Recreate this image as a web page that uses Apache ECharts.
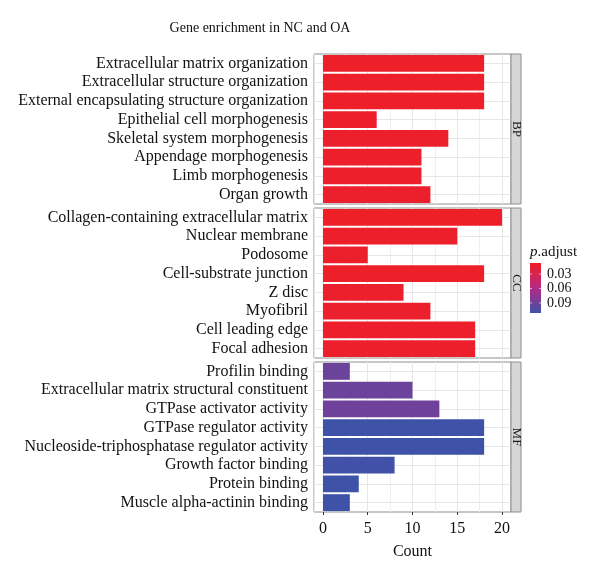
<!DOCTYPE html>
<html>
<head>
<meta charset="utf-8">
<script src="https://cdn.jsdelivr.net/npm/echarts@6/dist/echarts.min.js"></script>
<style>
html,body{margin:0;padding:0;background:#fff;}
#chart{width:600px;height:575px;}
</style>
</head>
<body>
<div id="chart"></div>
<script>
// ---- data ----
const panels = ['BP', 'CC', 'MF'];
const bpTerms = ['Extracellular matrix organization','Extracellular structure organization','External encapsulating structure organization','Epithelial cell morphogenesis','Skeletal system morphogenesis','Appendage morphogenesis','Limb morphogenesis','Organ growth'];
const bpCount = [18, 18, 18, 6, 14, 11, 11, 12];
const bpPadj = [0.008, 0.008, 0.008, 0.009, 0.010, 0.009, 0.009, 0.010];
const ccTerms = ['Collagen-containing extracellular matrix','Nuclear membrane','Podosome','Cell-substrate junction','Z disc','Myofibril','Cell leading edge','Focal adhesion'];
const ccCount = [20, 15, 5, 18, 9, 12, 17, 17];
const ccPadj = [0.007, 0.009, 0.010, 0.008, 0.010, 0.010, 0.009, 0.009];
const mfTerms = ['Profilin binding','Extracellular matrix structural constituent','GTPase activator activity','GTPase regulator activity','Nucleoside-triphosphatase regulator activity','Growth factor binding','Protein binding','Muscle alpha-actinin binding'];
const mfCount = [3, 10, 13, 18, 18, 8, 4, 3];
const mfPadj = [0.091, 0.091, 0.089, 0.111, 0.111, 0.110, 0.111, 0.111];
const xTicks = [0, 5, 10, 15, 20];
const minorTicks = [2.5, 7.5, 12.5, 17.5];
const legendTicks = [0.03, 0.06, 0.09];
const padjMin = 0.007, padjMax = 0.111;

// ---- layout ----
const FONT = 'Liberation Serif, Times New Roman, serif';
const gridLeft = 314, gridRight = 511;
const tops = [54, 208, 362];
const H = 150;
const colors = ['#EE1F26', '#B52A86', '#3E52A8'];

const terms = [bpTerms, ccTerms, mfTerms];
const counts = [bpCount, ccCount, mfCount];
const padjs = [bpPadj, ccPadj, mfPadj];

const grid = [], xAxis = [], yAxis = [], series = [], graphic = [];
panels.forEach((p, k) => {
  const last = k === panels.length - 1;
  grid.push({left: gridLeft, width: gridRight - gridLeft, top: tops[k], height: H,
    show: true, borderColor: '#8f8f8f', borderWidth: 1, backgroundColor: '#fff', z: 0});
  xAxis.push({type: 'value', gridIndex: k, min: -1, max: 21, splitNumber: 5,
    axisLine: {show: false},
    axisTick: {show: last, length: 3, lineStyle: {color: '#333'}},
    axisLabel: {show: last, showMinLabel: false, showMaxLabel: false, color: '#111',
      fontFamily: FONT, fontSize: 16, margin: 9},
    splitLine: {show: true, lineStyle: {color: '#e6e6e6', width: 1}},
    name: last ? 'Count' : '', nameLocation: 'middle', nameGap: 32,
    nameTextStyle: {fontFamily: FONT, fontSize: 16, color: '#111'}});
  yAxis.push({type: 'category', gridIndex: k, inverse: true, data: terms[k],
    axisLine: {show: false},
    axisTick: {show: true, alignWithLabel: true, interval: 0, length: 3, lineStyle: {color: '#333'}},
    axisLabel: {interval: 0, color: '#111', fontFamily: FONT, fontSize: 16, margin: 6},
    splitLine: {show: false}});
  // gridlines (minor vertical + horizontal at categories)
  series.push({type: 'line', xAxisIndex: k, yAxisIndex: k, data: [], z: 1, silent: true,
    markLine: {z: 1, silent: true, symbol: 'none', label: {show: false}, animation: false,
      lineStyle: {color: '#efefef', width: 1, type: 'solid'},
      data: minorTicks.map(v => ({xAxis: v})).concat(terms[k].map(t => ({yAxis: t, lineStyle: {color: '#e6e6e6'}})))}});
  series.push({type: 'bar', xAxisIndex: k, yAxisIndex: k, z: 6, barCategoryGap: '10%',
    encode: {x: 0, y: 1},
    data: terms[k].map((t, i) => [counts[k][i], t, padjs[k][i]])});
  // strip
  graphic.push({type: 'rect', shape: {x: gridRight, y: tops[k], width: 10, height: H},
    style: {fill: '#d6d6d6', stroke: '#8f8f8f', lineWidth: 1}, z: 10});
  graphic.push({type: 'text', x: gridRight + 5.5, y: tops[k] + H / 2, rotation: -Math.PI / 2,
    style: {text: p, fontFamily: FONT, fontSize: 13, fill: '#1a1a1a', align: 'center', verticalAlign: 'middle'}, z: 11});
});

// title
graphic.push({type: 'text', x: 260, y: 28, style: {text: 'Gene enrichment in NC and OA', fontFamily: FONT,
  fontSize: 14, fill: '#111', align: 'center', verticalAlign: 'middle'}});

// color legend
const barX = 530, barY = 263, barW = 11, barH = 50;
graphic.push({type: 'text', x: 530, y: 252, style: {
  text: '{i|p}.adjust', fontFamily: FONT, fontSize: 15, fill: '#111', verticalAlign: 'middle',
  rich: {i: {fontStyle: 'italic', fontFamily: FONT, fontSize: 15, fill: '#111'}}}});
graphic.push({type: 'rect', shape: {x: barX, y: barY, width: barW, height: barH},
  style: {fill: new echarts.graphic.LinearGradient(0, 0, 0, 1, [
    {offset: 0, color: colors[0]}, {offset: 0.5, color: colors[1]}, {offset: 1, color: colors[2]}])}});
legendTicks.forEach(v => {
  const y = barY + (v - padjMin) / (padjMax - padjMin) * barH;
  graphic.push({type: 'line', shape: {x1: barX, y1: y, x2: barX + 2, y2: y}, style: {stroke: 'rgba(255,255,255,0.6)', lineWidth: 1}});
  graphic.push({type: 'line', shape: {x1: barX + barW - 2, y1: y, x2: barX + barW, y2: y}, style: {stroke: 'rgba(255,255,255,0.6)', lineWidth: 1}});
  graphic.push({type: 'text', x: 547, y: y, style: {text: v.toFixed(2), fontFamily: FONT, fontSize: 14,
    fill: '#111', verticalAlign: 'middle'}});
});

const chart = echarts.init(document.getElementById('chart'), null, {renderer: 'canvas'});
chart.setOption({
  animation: false,
  backgroundColor: '#fff',
  grid, xAxis, yAxis, series, graphic,
  visualMap: {type: 'continuous', show: false, min: padjMin, max: padjMax, dimension: 2,
    seriesIndex: [1, 3, 5], inRange: {color: colors}}
});
</script>
</body>
</html>
